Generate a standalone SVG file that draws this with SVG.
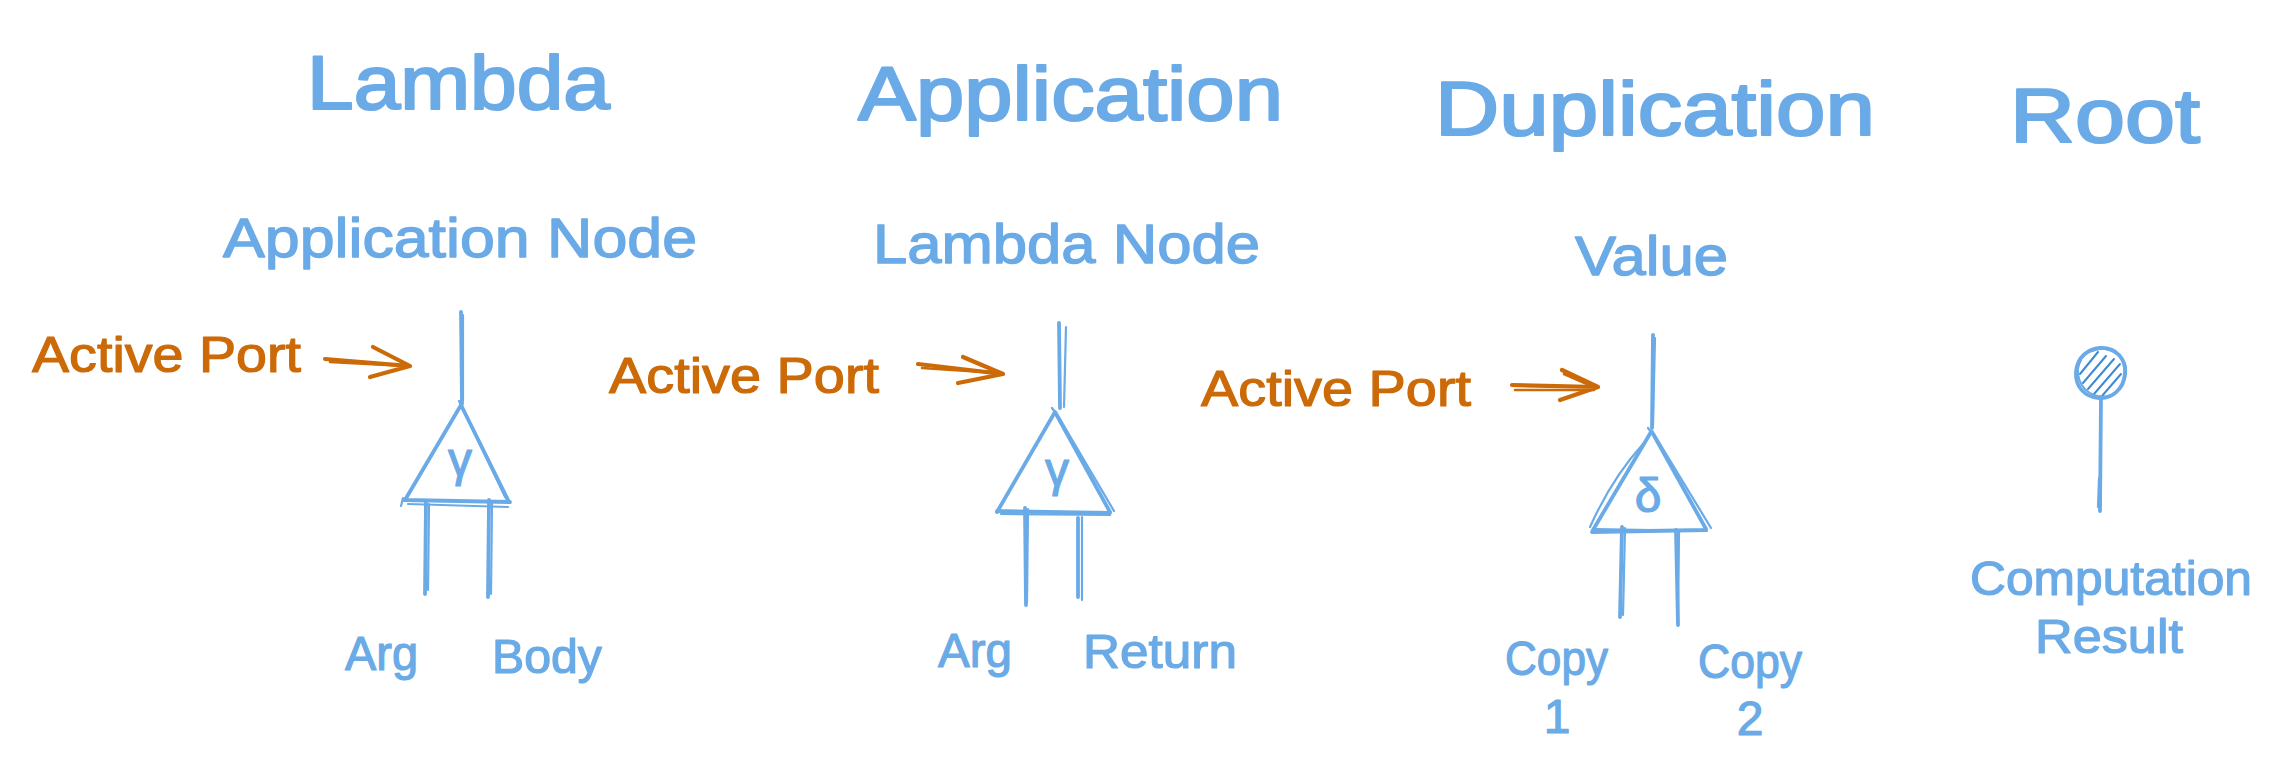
<svg xmlns="http://www.w3.org/2000/svg" width="2282" height="780" viewBox="0 0 2282 780">
<style>
text{font-family:"Liberation Sans","DejaVu Sans",sans-serif;stroke-linejoin:round;}
.b{fill:#6aaae6;stroke:#6aaae6;stroke-width:1.2;}
.o{fill:#cc6a08;stroke:#cc6a08;stroke-width:1.2;}
.title{font-size:76px;stroke-width:2.2;}
.sub{font-size:56px;stroke-width:1.4;}
.lab{font-size:48px;}
.act{font-size:50px;}
.greek{font-size:48px;text-anchor:middle;}
.num{font-size:48px;text-anchor:middle;}
.s{fill:none;stroke:#6aaae6;stroke-width:3.8;stroke-linecap:round;stroke-linejoin:round;}
.s2{fill:none;stroke:#6aaae6;stroke-width:2.2;stroke-linecap:round;}
.a{fill:none;stroke:#cc6a08;stroke-width:4.2;stroke-linecap:round;stroke-linejoin:round;}
.a2{fill:none;stroke:#cc6a08;stroke-width:2.5;stroke-linecap:round;}
.h{fill:none;stroke:#3d8ad6;stroke-width:2;stroke-linecap:round;}
</style>
<rect x="0" y="0" width="2282" height="780" fill="#ffffff"/>

<g id="lambda">
  <text class="b title" x="307" y="109" textLength="303" lengthAdjust="spacingAndGlyphs">Lambda</text>
  <text class="b sub" x="223" y="257" textLength="474" lengthAdjust="spacingAndGlyphs">Application Node</text>
  <g id="lambda-node">
    <path class="s" d="M461 312 L462 404"/>
    <path class="s2" d="M463 315 L463 400"/>
    <path class="s" d="M461 405 L405 500 M461 405 L509 502 M404 500 L510 502"/>
    <path class="s2" d="M459 401 L505 497 L510 503 M408 504 L508 507 M403 498 L401 506"/>
    <path class="s" d="M426 502 L425 594 M489 500 L488 597"/>
    <path class="s2" d="M429 504 L428 590 M492 503 L491 594"/>
    <text class="b greek" x="460" y="476">γ</text>
  </g>
  <text class="b lab" x="345" y="670" textLength="73" lengthAdjust="spacingAndGlyphs">Arg</text>
  <text class="b lab" x="492" y="673" textLength="110" lengthAdjust="spacingAndGlyphs">Body</text>
</g>

<g id="application">
  <text class="b title" x="858" y="120" textLength="425" lengthAdjust="spacingAndGlyphs">Application</text>
  <text class="b sub" x="873" y="263" textLength="387" lengthAdjust="spacingAndGlyphs">Lambda Node</text>
  <g id="application-node">
    <path class="s" d="M1059 323 L1060 408"/>
    <path class="s2" d="M1066 327 L1064 407"/>
    <path class="s" d="M1055 412 L997 512 M1055 412 L1110 512 M997 511 L1110 513"/>
    <path class="s2" d="M1057 414 L1114 511 M1001 514 L1110 515 M1052 408 L1058 416"/>
    <path class="s" d="M1025 508 L1026 605 M1078 518 L1078 597"/>
    <path class="s2" d="M1028 509 L1027 602 M1082 517 L1082 600"/>
    <text class="b greek" x="1057" y="486">γ</text>
  </g>
  <text class="b lab" x="938" y="667" textLength="74" lengthAdjust="spacingAndGlyphs">Arg</text>
  <text class="b lab" x="1083" y="668" textLength="154" lengthAdjust="spacingAndGlyphs">Return</text>
</g>

<g id="duplication">
  <text class="b title" x="1435" y="135" textLength="440" lengthAdjust="spacingAndGlyphs">Duplication</text>
  <text class="b sub" x="1575" y="275" textLength="153" lengthAdjust="spacingAndGlyphs">Value</text>
  <g id="duplication-node">
    <path class="s" d="M1653 335 L1652 428"/>
    <path class="s2" d="M1655 338 L1653 425"/>
    <path class="s" d="M1651 432 L1593 530 M1652 432 L1706 529 M1592 532 L1705 530"/>
    <path class="s2" d="M1643 444 Q1612 478 1590 527 M1654 434 L1711 528 M1596 529 L1707 531 M1648 428 L1654 436"/>
    <path class="s" d="M1622 527 L1620 617 M1676 530 L1678 625"/>
    <path class="s2" d="M1625 528 L1623 615 M1679 532 L1678 623"/>
    <text class="b greek" x="1648" y="512">δ</text>
  </g>
  <text class="b lab" x="1505" y="675" textLength="103" lengthAdjust="spacingAndGlyphs">Copy</text>
  <text class="b num" x="1557" y="733">1</text>
  <text class="b lab" x="1698" y="678" textLength="104" lengthAdjust="spacingAndGlyphs">Copy</text>
  <text class="b num" x="1750" y="735">2</text>
</g>

<g id="root">
  <text class="b title" x="2010" y="142" textLength="190" lengthAdjust="spacingAndGlyphs">Root</text>
  <g id="root-node">
    <path class="h" d="M2083 383 L2106 356 M2088 389 L2114 359 M2094 394 L2120 364 M2080 374 L2098 352 M2102 396 L2121 374"/>
    <path class="s" d="M2100 348 C2117 347 2126 360 2125 373 C2124 389 2112 399 2099 398 C2084 397 2075 386 2076 372 C2077 357 2088 349 2100 348 Z"/>
    <path class="s2" d="M2092 351 C2106 344 2127 355 2126 372 C2125 391 2108 401 2094 395 C2079 389 2074 372 2081 360"/>
    <path class="s" d="M2101 397 L2100 511"/>
    <path class="s2" d="M2099 478 L2098 507"/>
  </g>
  <text class="b lab" x="1970" y="595" textLength="282" lengthAdjust="spacingAndGlyphs">Computation</text>
  <text class="b lab" x="2035" y="653" textLength="148" lengthAdjust="spacingAndGlyphs">Result</text>
</g>

<g id="active-labels">
  <text class="o act" x="32" y="372" textLength="269" lengthAdjust="spacingAndGlyphs">Active Port</text>
  <text class="o act" x="609" y="393" textLength="270" lengthAdjust="spacingAndGlyphs">Active Port</text>
  <text class="o act" x="1201" y="406" textLength="270" lengthAdjust="spacingAndGlyphs">Active Port</text>
</g>

<g id="connectors">
  <path class="a" d="M325 359 L410 366 M373 347 L410 366 L370 377"/>
  <path class="a2" d="M330 362 L405 366"/>
  <path class="a" d="M918 364 L1003 374 M963 357 L1003 374 L958 383"/>
  <path class="a2" d="M922 368 L998 373"/>
  <path class="a" d="M1512 385 L1598 387 M1562 370 L1598 387 L1560 400"/>
  <path class="a2" d="M1515 390 L1594 390 M1564 374 L1596 388"/>
</g>
</svg>
